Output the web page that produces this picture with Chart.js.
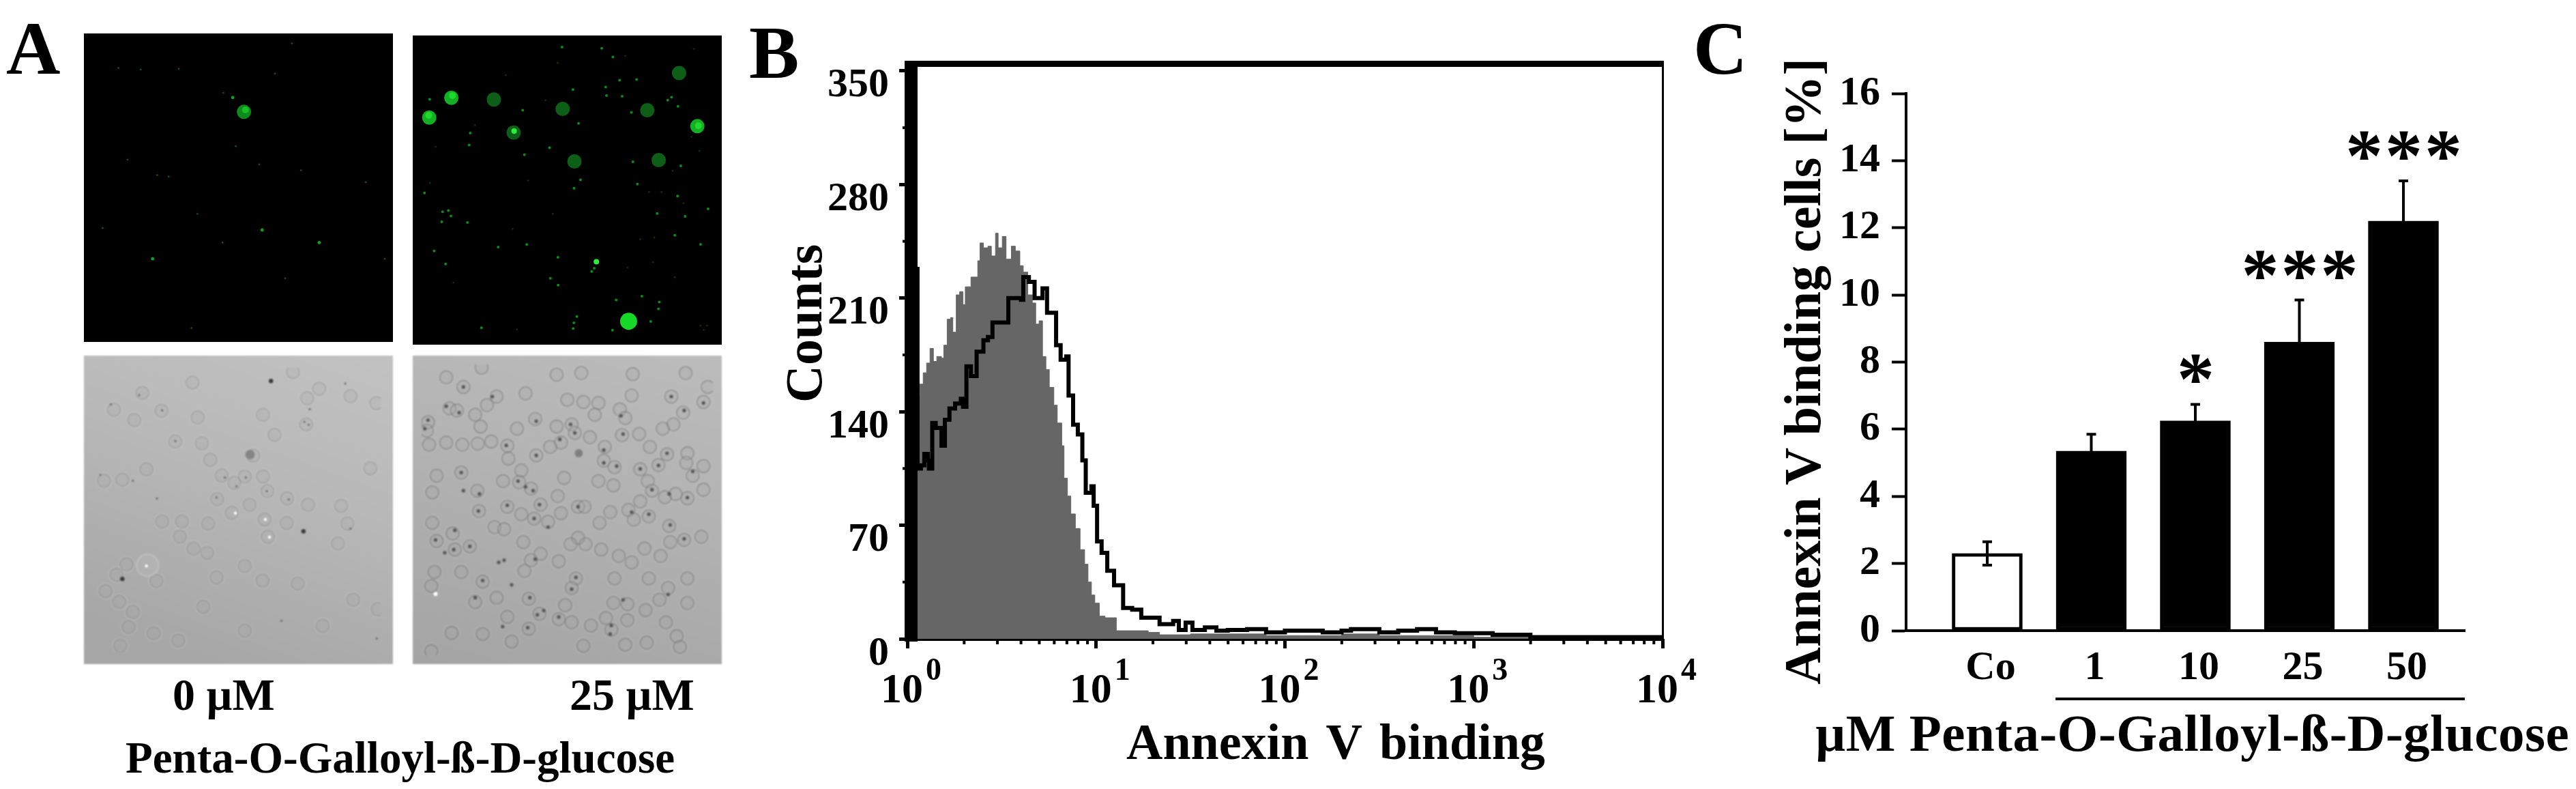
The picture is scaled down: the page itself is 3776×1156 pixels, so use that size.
<!DOCTYPE html>
<html><head><meta charset="utf-8">
<script src="https://cdn.jsdelivr.net/npm/chart.js@4"></script>
<style>
html,body{margin:0;padding:0;background:#fff;width:3776px;height:1156px;overflow:hidden}
canvas{position:absolute;display:block}
.t{position:absolute;font-family:"Liberation Serif",serif;font-weight:bold;color:#000;white-space:pre;line-height:1;margin:0}
.v{transform-origin:0 0;transform:rotate(-90deg)}
#rule{position:absolute;background:#000}
</style></head><body>
<canvas id="p1" width="453" height="452" style="left:123px;top:49px;filter:blur(.7px)"></canvas>
<canvas id="p2" width="453" height="453" style="left:605px;top:52px;filter:blur(.7px)"></canvas>
<canvas id="p3" width="453" height="452" style="left:123px;top:521px;filter:blur(1.3px);background:linear-gradient(200deg,#c2c2c2 0%,#b8b8b8 40%,#a8a8a8 85%,#a6a6a6 100%)"></canvas>
<canvas id="p4" width="453" height="452" style="left:605px;top:521px;filter:blur(1.1px);background:linear-gradient(195deg,#bcbcbc 0%,#b2b2b2 45%,#a4a4a4 100%)"></canvas>
<canvas id="histo" width="1300" height="1040" style="left:1200px;top:40px"></canvas>
<canvas id="bars" width="1276" height="1020" style="left:2500px;top:40px"></canvas>
<div class="t" style="left:9px;top:16px;font-size:110px">A</div>
<div class="t" style="left:1098px;top:22px;font-size:110px">B</div>
<div class="t" style="left:2482px;top:16px;font-size:110px">C</div>
<div class="t" style="left:253px;top:985px;font-size:66px">0 µM</div>
<div class="t" style="left:835px;top:985px;font-size:66px">25 µM</div>
<div class="t" style="left:184px;top:1078px;font-size:65px">Penta-O-Galloyl-ß-D-glucose</div>
<div class="t v" style="left:1140px;top:590px;font-size:76px">Counts</div>
<div class="t" style="left:1651px;top:1050px;font-size:74px;word-spacing:8px">Annexin V binding</div>
<div class="t v" style="left:2604px;top:1003px;font-size:76px">Annexin V binding cells [%]</div>
<div class="t" style="left:2661px;top:1036px;font-size:77px;letter-spacing:.5px">µM Penta-O-Galloyl-ß-D-glucose</div>
<div id="rule" style="left:3013px;top:1022px;width:600px;height:4px"></div>
<script>
// ---------- Panel B: flow cytometry histogram (x in log10 decades, y in counts)
const controlDecades=[0,0.066,0.084,0.102,0.120,0.138,0.156,0.181,0.193,0.211,0.229,0.241,0.259,0.277,0.295,0.307,0.337,0.361,0.373,0.385,0.403,0.427,0.445,0.467,0.481,0.503,0.523,0.551,0.572,0.596,0.614,0.638,0.662,0.680,0.698,0.716,0.734,0.752,0.776,0.794,0.818,0.830,0.848,0.866,0.890,0.915,0.939,0.957,0.975,0.993,1.017,1.047,1.083,1.107,1.155,1.215,1.276,1.336,1.5,1.7,1.9,2.1,2.3,2.5,2.7,3.0,4.0];
const controlCounts=[150,157,164,170,179,171,174,173,181,197,198,189,212,214,206,217,223,223,233,244,241,242,236,250,241,248,234,242,239,230,226,212,207,194,196,174,166,155,144,133,119,99,88,77,68,55,46,35,27,22,14,13,13,5,5,5,4,2.5,3,3,2,2,3,2,2,1,1];
const treatedDecades=[0.040,0.054,0.072,0.090,0.108,0.114,0.132,0.150,0.181,0.199,0.223,0.253,0.283,0.295,0.313,0.337,0.367,0.403,0.427,0.451,0.481,0.517,0.535,0.572,0.602,0.614,0.644,0.674,0.716,0.740,0.776,0.788,0.812,0.842,0.854,0.878,0.903,0.927,0.945,0.975,0.987,1.005,1.029,1.059,1.095,1.143,1.191,1.239,1.300,1.336,1.408,1.438,1.474,1.510,1.576,1.637,1.697,1.8,1.9,2.0,2.1,2.2,2.3,2.35,2.5,2.6,2.7,2.8,2.9,3.1,3.3,3.5,3.7,3.9,4.0];
const treatedCounts=[228,105,107,114,110,105,133,130,119,135,142,145,148,143,168,162,177,184,186,195,195,195,210,210,209,223,220,210,216,201,201,181,172,174,150,132,126,110,90,94,82,60,53,42,33,19,18,13,13,9,11,5.5,10,5.5,7,5,5.5,6,4,5,5,4,5,6,4,5,6,4,3.5,2.5,1,1,1,1,1];
const histoYTicks=[0,70,140,210,280,350];
const histoYMinor=[35,105,175,245,315];
const histoXTicks=[1,10,100,1000,10000];
const histoXExponents=['0','1','2','3','4'];
const histoXMinor=[2,3,4,5,6,7,8,9,20,30,40,50,60,70,80,90,200,300,400,500,600,700,800,900,2000,3000,4000,5000,6000,7000,8000,9000];

// ---------- Panel C: bar chart
const doseLabels=['Co','1','10','25','50'];
const bindingPercent=[2.3,5.35,6.25,8.6,12.2];
const bindingError=[0.35,0.5,0.49,1.25,1.2];
const significance=['','','*','***','***'];
const barFill=['#ffffff','#000000','#000000','#000000','#000000'];

// ---------- Panel A: micrographs, field coordinates of what is visible (x,y pairs)
const p1Cell=[705,329];
const p1Core=[712,320];
const p1Spots=[653,263,789,875,1052,933,284,1008];
const p1Specks=[610,241,490,800,404,130,229,133,126,126,463,1328,1354,1008,895,1098,305,621,358,628,667,488,1267,654,53,866,606,933,968,599,775,572,168,550,848,152,926,13];
const p2Blaze=[965,1290];
const p2Flash=[815,1013,432,405];
const p2Bright=[1285,382,140,250,37,342];
const p2BrightCore=[1290,380,145,240,35,332];
const p2Dim=[338,258,658,302,1052,308,713,546,1105,540,1200,135,430,412];
const p2Spots=[655,14,840,20,892,60,39,257,858,200,706,212,732,369,597,483,741,632,711,671,985,548,1006,652,1193,707,1208,567,1195,290,1147,261,1165,248,978,318,228,414,223,470,99,780,126,775,138,800,215,830,95,827,60,963,358,945,491,933,636,992,601,1090,637,1122,805,1043,793,1058,907,1191,1027,1173,1108,1200,1104,1232,1068,1291,890,1331,710,1297,724,1268,707,1323,280,1320,15,693,1335,767,1098,788,1300,932,113,1023,480,515,472,308,862,240,935,243,923,168,1002,165,1180,890,1228,802];
const p2Faint=[393,145,635,88,578,262,250,378,67,478,40,645,498,635,425,860,612,790,150,1110,445,1328,1060,688,1118,688,1220,740,1258,432,1295,497,1170,590,1085,900,1020,908,1180,1085,960,1040,1078,1015,1315,1330,1300,1310,1330,1310,950,55,1270,22];
const p3Cells=[220,120,85,200,182,250,312,205,485,237,1008,145,1065,100,1338,168,1215,135,797,225,1003,270,852,320,378,352,505,362,545,440,240,485,37,540,125,535,600,515,660,550,710,520,797,520,750,420,578,628,648,693,733,655,912,625,1012,655,1170,660,805,725,818,590,910,742,1200,745,315,735,535,745,400,808,820,808,1155,840,145,940,530,885,710,948,97,990,288,1020,575,1003,795,1018,963,1032,45,1068,110,1120,512,1143,175,1168,1228,1110,1345,1155,155,1240,275,1270,710,1258,1082,1235,392,1305,115,1330,460,70,940,20,1310,480,410,735,465,865];
const p3LargeCell=[245,945];
const p3Dark=[735,415];
const p3Grit=[205,130,315,203,1020,198,995,258,1015,272,378,350,670,567,920,630,575,620,1190,75,1340,1295,1215,770,70,175,20,512,175,540,290,625,815,590,885,1210,615,525,715,525];
const p3Clumps=[835,63,990,782,125,1010];
const p3White=[808,725,240,948,828,810,665,695];
const p4Cells=[280,15,115,60,195,105,630,48,745,40,985,45,1232,40,1335,105,485,135,350,150,680,165,755,175,825,180,980,145,1165,150,1315,175,130,205,165,215,250,235,305,190,808,235,925,210,950,250,530,255,1220,225,30,270,275,290,445,300,630,290,700,280,715,320,1175,280,1125,300,25,310,935,330,1015,325,785,340,35,375,115,365,190,375,262,370,325,360,400,380,650,365,600,385,855,385,1065,385,405,440,535,425,1145,420,1240,415,1235,460,850,450,900,480,1020,490,1105,470,1315,475,1265,520,185,505,70,520,465,495,665,530,380,545,455,550,825,545,895,565,1055,545,1075,590,510,580,50,598,260,590,635,615,1135,620,1185,605,1240,625,1315,585,1020,640,555,655,400,665,730,665,760,665,650,695,465,700,880,690,965,680,268,685,525,720,590,735,1060,710,990,725,830,740,50,740,340,760,385,770,1155,755,145,790,1305,805,70,825,225,850,155,865,475,830,730,810,695,840,765,840,1160,830,1225,820,1040,860,838,865,920,895,980,925,1115,895,555,885,510,915,640,920,60,970,185,970,285,1015,900,1000,1060,1000,1240,1000,720,1000,700,1045,1150,1045,45,1035,350,1090,500,1095,250,1110,1110,1100,895,1115,960,1120,1045,1148,670,1125,550,1165,400,1180,640,1190,700,1205,960,1195,790,1220,860,1185,1140,1205,500,1235,140,1255,285,1260,885,1240,1190,1270,1205,1320,420,1295,755,1315,950,1310,45,1340,1050,1300,1240,1115,480,965];
const p4Dark=[733,415];
const p4Grit=[195,105,115,195,30,260,15,300,175,225,330,150,395,378,535,425,535,265,695,280,715,320,645,350,850,400,850,460,910,475,940,325,930,240,1165,150,1225,215,1315,180,1145,415,1105,472,1020,488,1265,500,1240,622,1155,605,1075,585,1060,700,980,690,1160,750,1225,815,730,665,550,655,525,720,590,760,400,658,450,545,485,572,520,590,270,605,185,505,265,685,155,775,150,865,225,850,65,820,360,925,385,915,530,910,720,995,700,1050,1150,1075,285,1010,420,1030,250,1090,505,1090,570,1150,540,1170,640,1180,940,1100,885,1220,880,1260,495,1230,195,590,108,880,378,1225];
const p4White=[65,1073];

const pairs=a=>{const o=[];for(let i=0;i<a.length;i+=2)o.push({x:a[i],y:a[i+1]});return o;};
const SERIF='"Liberation Serif", serif';
Chart.defaults.animation=false;
Chart.defaults.responsive=false;
Chart.defaults.devicePixelRatio=1;
Chart.defaults.plugins.legend.display=false;
Chart.defaults.plugins.tooltip.enabled=false;

function field(id,bg,layers){
  const cv=document.getElementById(id);
  new Chart(cv,{type:'scatter',
    data:{datasets:layers.map((l,i)=>({order:-i,data:pairs(l.d),pointRadius:l.r,pointBackgroundColor:l.c||'rgba(0,0,0,0)',pointBorderColor:l.b||'rgba(0,0,0,0)',pointBorderWidth:l.w||0,showLine:false}))},
    options:{layout:{padding:0},maintainAspectRatio:false,
      scales:{x:{display:false,min:0,max:1359},y:{display:false,min:0,max:1359,reverse:true}}},
    plugins:bg?[{id:'bg',beforeDraw(c){c.ctx.save();c.ctx.fillStyle=bg;c.ctx.fillRect(0,0,c.width,c.height);c.ctx.restore();}}]:[]});
}
field('p1','#000',[
  {d:p1Specks,r:1.3,c:'#0a6014'},{d:p1Spots,r:2.4,c:'#10a020'},
  {d:p1Cell,r:10.5,c:'#0e8a1c'},{d:p1Core,r:5,c:'#18c028'}]);
field('p2','#000',[
  {d:p2Faint,r:1.2,c:'#07400e'},{d:p2Spots,r:2,c:'#0c8a1a'},
  {d:p2Dim,r:10.5,c:'#0d5f18'},
  {d:p2Bright,r:10.5,c:'#14b024'},{d:p2BrightCore,r:5,c:'#1ed82e'},
  {d:p2Blaze,r:12.5,c:'#16d826'},{d:p2Flash,r:4,c:'#28f038'}]);
field('p3',null,[
  {d:p3Cells,r:11.5,b:'rgba(205,205,205,.3)',w:1.5},
  {d:p3Cells,r:9.5,b:'rgba(125,125,125,.38)',w:1.5,c:'rgba(170,170,170,.2)'},
  {d:p3LargeCell,r:16,b:'rgba(205,205,205,.55)',w:2,c:'rgba(185,185,185,.4)'},
  {d:p3Dark,r:7,c:'#858585'},
  {d:p3Grit,r:1.6,c:'#6a6a6a'},{d:p3Clumps,r:3.2,c:'#3a3a3a'},{d:p3White,r:2.2,c:'#ffffff'}]);
field('p4',null,[
  {d:p4Cells,r:11.5,b:'rgba(200,200,200,.3)',w:1.5},
  {d:p4Cells,r:9.5,b:'rgba(105,105,105,.5)',w:1.6,c:'rgba(165,165,165,.2)'},
  {d:p4Dark,r:6,c:'#808080'},
  {d:p4Grit,r:2.6,c:'#555555'},{d:p4White,r:3,c:'#ffffff'}]);

// ---------- Histogram
new Chart(document.getElementById('histo'),{
  type:'line',
  data:{datasets:[
    {order:1,data:treatedDecades.map((d,i)=>({x:10**d,y:treatedCounts[i]})),stepped:true,fill:false,borderColor:'#000',borderWidth:6,pointRadius:0},
    {order:2,data:controlDecades.map((d,i)=>({x:10**d,y:controlCounts[i]})),stepped:true,fill:'origin',backgroundColor:'#666666',borderWidth:1,borderColor:'#666666',pointRadius:0}
  ]},
  options:{maintainAspectRatio:false,
    layout:{padding:{top:54,right:63,left:0,bottom:0}},
    scales:{
      x:{type:'logarithmic',min:1,max:10000,
        afterBuildTicks:s=>{s.ticks=histoXTicks.map(v=>({value:v}));},
        afterFit:s=>{s.height=1040-896;},
        border:{display:false},
        grid:{drawOnChartArea:false,color:'#000',tickColor:'#000',tickLength:14,tickWidth:5,lineWidth:5},
        ticks:{autoSkip:false,maxRotation:0,minRotation:0,padding:26,labelOffset:-8,color:'#000',font:{family:SERIF,weight:'bold',size:62},callback:()=>'10'}},
      y:{min:0,max:354.2,
        afterBuildTicks:s=>{s.ticks=histoYTicks.map(v=>({value:v}));},
        afterFit:s=>{s.width=130;},
        border:{display:false},
        grid:{drawOnChartArea:false,tickColor:'#000',tickLength:12,tickWidth:5},
        ticks:{padding:15,labelOffset:22,color:'#000',font:{family:SERIF,weight:'bold',size:60}}}
    }},
  plugins:[{id:'frame',afterDatasetsDraw(c){
    const {ctx,chartArea:a,scales:{x,y}}=c;
    ctx.save();ctx.fillStyle='#000';
    ctx.fillRect(a.left-4,a.top-5,19,a.bottom-a.top+9);
    ctx.fillRect(a.left-4,a.top-5,a.right-a.left+6,9);
    ctx.fillRect(a.right-1,a.top-5,3,a.bottom-a.top+7);
    ctx.fillRect(a.left-4,a.bottom,a.right-a.left+6,3);
    histoXMinor.forEach(v=>{ctx.fillRect(x.getPixelForValue(v)-2,a.bottom+3,4,5);});
    histoYMinor.forEach(v=>{ctx.fillRect(a.left-7,y.getPixelForValue(v)-2,3,4);});
    ctx.font='bold 46px '+SERIF;ctx.textBaseline='alphabetic';ctx.textAlign='left';
    histoXTicks.forEach((v,i)=>{ctx.fillText(histoXExponents[i],x.getPixelForValue(v)+27,a.bottom+60);});
    ctx.restore();
  }}]
});

// ---------- Bars
new Chart(document.getElementById('bars'),{
  type:'bar',
  data:{datasets:[{data:bindingPercent.map((v,i)=>({x:i,y:v})),backgroundColor:barFill,borderColor:'#000',borderWidth:5,borderSkipped:false,barThickness:103,grouped:false}]},
  options:{maintainAspectRatio:false,
    layout:{padding:{top:97,right:163,left:0,bottom:0}},
    scales:{
      x:{type:'linear',offset:false,bounds:'data',min:-0.78,max:4.59,
        afterBuildTicks:s=>{s.ticks=doseLabels.map((_,i)=>({value:i}));},
        afterFit:s=>{s.height=1020-884;},
        border:{color:'#000',width:4},
        grid:{offset:false,drawOnChartArea:false,drawTicks:false},
        ticks:{autoSkip:false,maxRotation:0,minRotation:0,padding:19,labelOffset:5,color:'#000',font:{family:SERIF,weight:'bold',size:60},callback:v=>doseLabels[v]}},
      y:{min:0,max:16,
        afterFit:s=>{s.width=294;},
        border:{color:'#000',width:4},
        grid:{drawOnChartArea:false,tickColor:'#000',tickLength:21,tickWidth:4},
        ticks:{stepSize:2,padding:17,color:'#000',font:{family:SERIF,weight:'bold',size:60}}}
    }},
  plugins:[{id:'whiskers',afterDatasetsDraw(c){
    const {ctx,scales:{x,y}}=c;
    ctx.save();ctx.strokeStyle='#000';ctx.lineWidth=4;ctx.fillStyle='#000';
    bindingPercent.forEach((v,i)=>{
      const px=x.getPixelForValue(i),hi=y.getPixelForValue(v+bindingError[i]),lo=y.getPixelForValue(v-bindingError[i]);
      ctx.beginPath();ctx.moveTo(px,lo);ctx.lineTo(px,hi);
      ctx.moveTo(px-7,hi);ctx.lineTo(px+7,hi);
      ctx.moveTo(px-7,lo);ctx.lineTo(px+7,lo);ctx.stroke();
      if(significance[i]){
        ctx.font='bold 110px '+SERIF;ctx.textAlign='center';ctx.textBaseline='alphabetic';
        ctx.letterSpacing='3px';
        ctx.fillText(significance[i],px+2,hi);
        ctx.letterSpacing='0px';
      }
    });
    ctx.restore();
  }}]
});
</script>
</body></html>
